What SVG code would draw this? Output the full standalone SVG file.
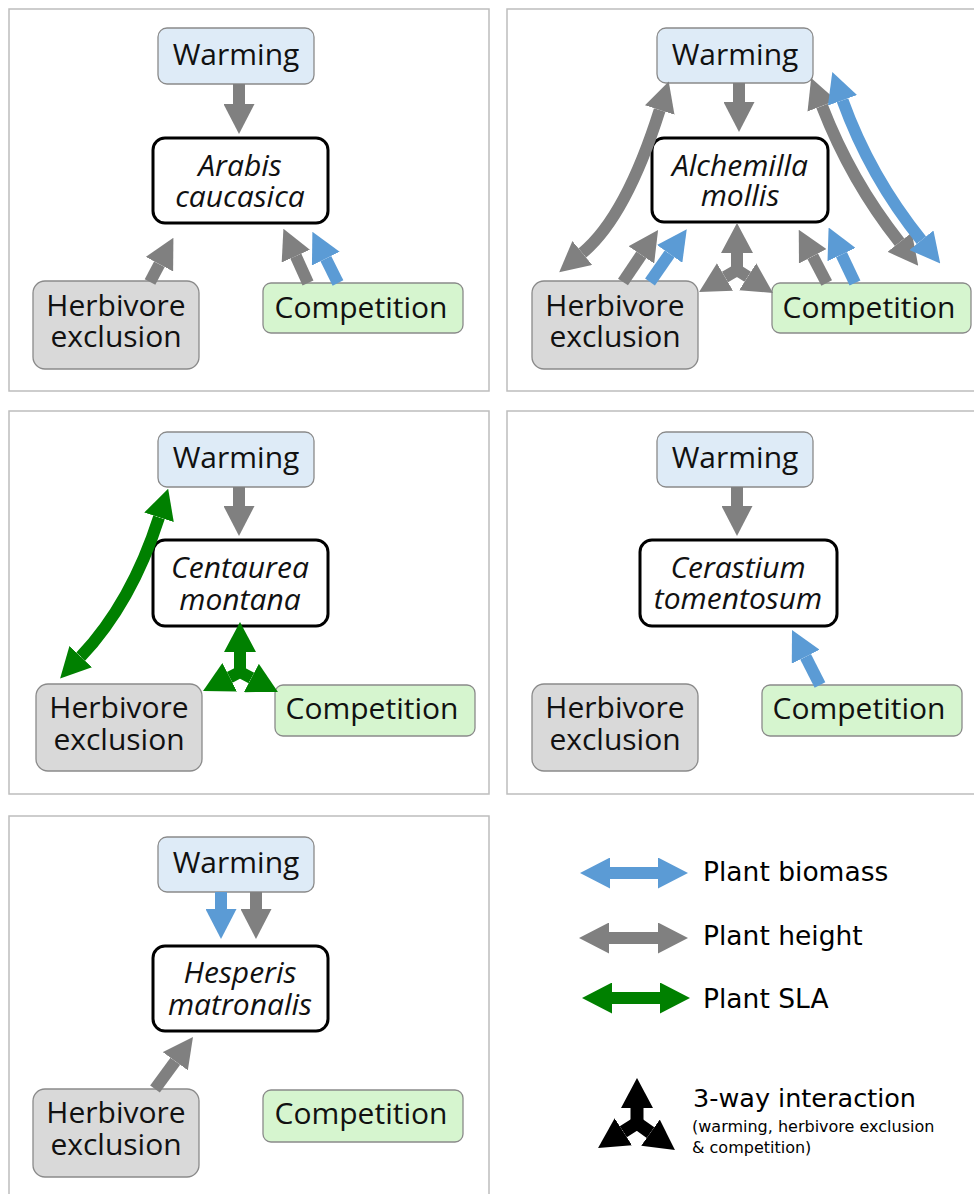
<svg xmlns="http://www.w3.org/2000/svg" width="974" height="1194" viewBox="0 0 974 1194">
<style>
.frame{fill:#fff;stroke:#bdbdbd;stroke-width:1.5}
.warm{fill:#deebf7;stroke:#8a8a8a;stroke-width:1.3}
.herb{fill:#d9d9d9;stroke:#8a8a8a;stroke-width:1.3}
.comp{fill:#d6f5cf;stroke:#8a8a8a;stroke-width:1.3}
.sp{fill:#fff;stroke:#000;stroke-width:3}
.t{font-family:"Open Sans","Liberation Sans",sans-serif;font-size:30px;fill:#111;text-anchor:middle}
.it{font-style:italic}
.lg{font-family:"DejaVu Sans","Liberation Sans",sans-serif;fill:#000}
.a{fill:none;stroke-width:12;stroke-linecap:butt;stroke-linejoin:miter}
.g{stroke:#808080}
.b{stroke:#5b9bd5}
.gr{stroke:#008000}
.k{stroke:#000;stroke-width:13}
</style>
<defs>
<marker id="mg" viewBox="0 0 30 31" markerWidth="30" markerHeight="31" refX="0" refY="15.5" orient="auto-start-reverse" markerUnits="userSpaceOnUse"><path d="M0,0L30,15.5L0,31z" fill="#808080"/></marker>
<marker id="mb" viewBox="0 0 30 31" markerWidth="30" markerHeight="31" refX="0" refY="15.5" orient="auto-start-reverse" markerUnits="userSpaceOnUse"><path d="M0,0L30,15.5L0,31z" fill="#5b9bd5"/></marker>
<marker id="mgr" viewBox="0 0 30 31" markerWidth="30" markerHeight="31" refX="0" refY="15.5" orient="auto-start-reverse" markerUnits="userSpaceOnUse"><path d="M0,0L30,15.5L0,31z" fill="#008000"/></marker>
<marker id="sg" viewBox="0 0 30 32" markerWidth="30" markerHeight="32" refX="0" refY="16" orient="auto-start-reverse" markerUnits="userSpaceOnUse"><path d="M0,0L30,16L0,32z" fill="#808080"/></marker>
<marker id="sgr" viewBox="0 0 30 32" markerWidth="30" markerHeight="32" refX="0" refY="16" orient="auto-start-reverse" markerUnits="userSpaceOnUse"><path d="M0,0L30,16L0,32z" fill="#008000"/></marker>
<marker id="mk" viewBox="0 0 30 32" markerWidth="30" markerHeight="32" refX="0" refY="16" orient="auto-start-reverse" markerUnits="userSpaceOnUse"><path d="M0,0L30,16L0,32z" fill="#000"/></marker>
</defs>

<g id="frames">
<rect class="frame" x="9" y="9" width="480" height="382"/>
<rect class="frame" x="507" y="9" width="480" height="382"/>
<rect class="frame" x="9" y="411" width="480" height="383"/>
<rect class="frame" x="507" y="411" width="480" height="383"/>
<rect class="frame" x="9" y="816" width="480" height="400"/>
</g>

<!-- Panel 1 -->
<g id="p1-warming"><rect class="warm" x="158" y="28" width="156" height="56" rx="9"/><text class="t" x="236" y="65">Warming</text></g>
<g id="p1-species"><rect class="sp" x="153" y="138" width="175" height="85" rx="12"/><text class="t it" x="240" y="176">Arabis<tspan x="240" y="207">caucasica</tspan></text></g>
<g id="p1-herbivore"><rect class="herb" x="33" y="281" width="166" height="88" rx="12"/><text class="t" x="116" y="316">Herbivore<tspan x="116" y="347">exclusion</tspan></text></g>
<g id="p1-competition"><rect class="comp" x="263" y="283" width="200" height="50" rx="8"/><text class="t" x="361" y="318">Competition</text></g>

<!-- Panel 2 -->
<g id="p2-warming"><rect class="warm" x="657" y="28" width="156" height="55" rx="9"/><text class="t" x="735" y="65">Warming</text></g>
<g id="p2-species"><rect class="sp" x="652" y="138" width="176" height="84" rx="12"/><text class="t it" x="740" y="176">Alchemilla<tspan x="740" y="206">mollis</tspan></text></g>
<g id="p2-herbivore"><rect class="herb" x="532" y="281" width="166" height="88" rx="12"/><text class="t" x="615" y="316">Herbivore<tspan x="615" y="347">exclusion</tspan></text></g>
<g id="p2-competition"><rect class="comp" x="772" y="283" width="199" height="50" rx="8"/><text class="t" x="869" y="318">Competition</text></g>

<!-- Panel 3 -->
<g id="p3-warming"><rect class="warm" x="158" y="432" width="156" height="55" rx="9"/><text class="t" x="236" y="468">Warming</text></g>
<g id="p3-species"><rect class="sp" x="153" y="540" width="175" height="86" rx="12"/><text class="t it" x="240" y="578">Centaurea<tspan x="240" y="610">montana</tspan></text></g>
<g id="p3-herbivore"><rect class="herb" x="36" y="684" width="166" height="87" rx="12"/><text class="t" x="119" y="718">Herbivore<tspan x="119" y="750">exclusion</tspan></text></g>
<g id="p3-competition"><rect class="comp" x="275" y="685" width="200" height="51" rx="8"/><text class="t" x="372" y="719">Competition</text></g>

<!-- Panel 4 -->
<g id="p4-warming"><rect class="warm" x="657" y="432" width="156" height="55" rx="9"/><text class="t" x="735" y="468">Warming</text></g>
<g id="p4-species"><rect class="sp" x="640" y="540" width="197" height="86" rx="12"/><text class="t it" x="738" y="578">Cerastium<tspan x="738" y="609">tomentosum</tspan></text></g>
<g id="p4-herbivore"><rect class="herb" x="532" y="684" width="166" height="87" rx="12"/><text class="t" x="615" y="718">Herbivore<tspan x="615" y="750">exclusion</tspan></text></g>
<g id="p4-competition"><rect class="comp" x="762" y="685" width="200" height="51" rx="8"/><text class="t" x="859" y="719">Competition</text></g>

<!-- Panel 5 -->
<g id="p5-warming"><rect class="warm" x="158" y="837" width="156" height="55" rx="9"/><text class="t" x="236" y="873">Warming</text></g>
<g id="p5-species"><rect class="sp" x="153" y="946" width="175" height="85" rx="12"/><text class="t it" x="240" y="983">Hesperis<tspan x="240" y="1015">matronalis</tspan></text></g>
<g id="p5-herbivore"><rect class="herb" x="33" y="1089" width="166" height="88" rx="12"/><text class="t" x="116" y="1123">Herbivore<tspan x="116" y="1155">exclusion</tspan></text></g>
<g id="p5-competition"><rect class="comp" x="263" y="1090" width="200" height="52" rx="8"/><text class="t" x="361" y="1124">Competition</text></g>

<g id="connectors">
<!-- panel 1 -->
<path class="a g" d="M239,84L239,104" marker-end="url(#mg)"/>
<path class="a g" d="M150,282L159.4,264.2" marker-end="url(#mg)"/>
<path class="a g" d="M308,283L295.8,256.1" marker-end="url(#mg)"/>
<path class="a b" d="M338,283L325.8,258.6" marker-end="url(#mb)"/>
<!-- panel 2 -->
<path class="a g" d="M739,83L739,102" marker-end="url(#mg)"/>
<path class="a g" d="M659.7,110Q626,216.8 582.3,253" marker-start="url(#mg)" marker-end="url(#mg)"/>
<path class="a g" d="M822,106Q851,181 899.6,242.2" marker-start="url(#mg)" marker-end="url(#mg)"/>
<path class="a b" d="M842.5,100.3Q870.1,176.7 921.4,240.2" marker-start="url(#mb)" marker-end="url(#mb)"/>
<path class="a g" d="M623,282L641.3,254.9" marker-end="url(#mg)"/>
<path class="a b" d="M650,282L669.6,253.9" marker-end="url(#mb)"/>
<path class="a g" d="M826.7,283L812.7,256.3" marker-end="url(#mg)"/>
<path class="a b" d="M855,283L841.5,254.6" marker-end="url(#mb)"/>
<path class="a g" d="M725,277L737,270L747.7,276.8" marker-start="url(#sg)" marker-end="url(#sg)"/>
<path class="a g" d="M737,272L737,253" marker-end="url(#sg)"/>
<!-- panel 3 -->
<path class="a g" d="M239,487L239,506" marker-end="url(#mg)"/>
<path class="a gr" d="M159,517.3Q131.6,602.8 80.7,656.7" marker-start="url(#mgr)" marker-end="url(#mgr)"/>
<path class="a gr" d="M229.7,677.3L240,672L251.4,678" marker-start="url(#sgr)" marker-end="url(#sgr)"/>
<path class="a gr" d="M240,674L240,652" marker-end="url(#sgr)"/>
<!-- panel 4 -->
<path class="a g" d="M737,487L737,506" marker-end="url(#mg)"/>
<path class="a b" d="M820,685L805.6,656.7" marker-end="url(#mb)"/>
<!-- panel 5 -->
<path class="a b" d="M221,892L221,909" marker-end="url(#mb)"/>
<path class="a g" d="M256,892L256,909" marker-end="url(#mg)"/>
<path class="a g" d="M155,1089L175.3,1061.2" marker-end="url(#mg)"/>
</g>

<g id="legend">
<path class="a b" d="M610,873L658,873" marker-start="url(#mb)" marker-end="url(#mb)"/>
<text class="lg" x="703" y="881" font-size="26.5">Plant biomass</text>
<path class="a g" d="M609,938L658,938" marker-start="url(#mg)" marker-end="url(#mg)"/>
<text class="lg" x="703" y="945" font-size="26.5">Plant height</text>
<path class="a gr" d="M612,998L660,998" marker-start="url(#mgr)" marker-end="url(#mgr)"/>
<text class="lg" x="703" y="1008" font-size="26.5">Plant SLA</text>
<path class="a k" d="M623.3,1131.8L637,1123L650.5,1132.6" marker-start="url(#mk)" marker-end="url(#mk)"/>
<path class="a k" d="M637,1125L637,1108" marker-end="url(#mk)"/>
<text class="lg" x="693" y="1107" font-size="25.5">3-way interaction</text>
<text class="lg" x="692" y="1132" font-size="16">(warming, herbivore exclusion<tspan x="692" y="1153">&amp; competition)</tspan></text>
</g>
</svg>
